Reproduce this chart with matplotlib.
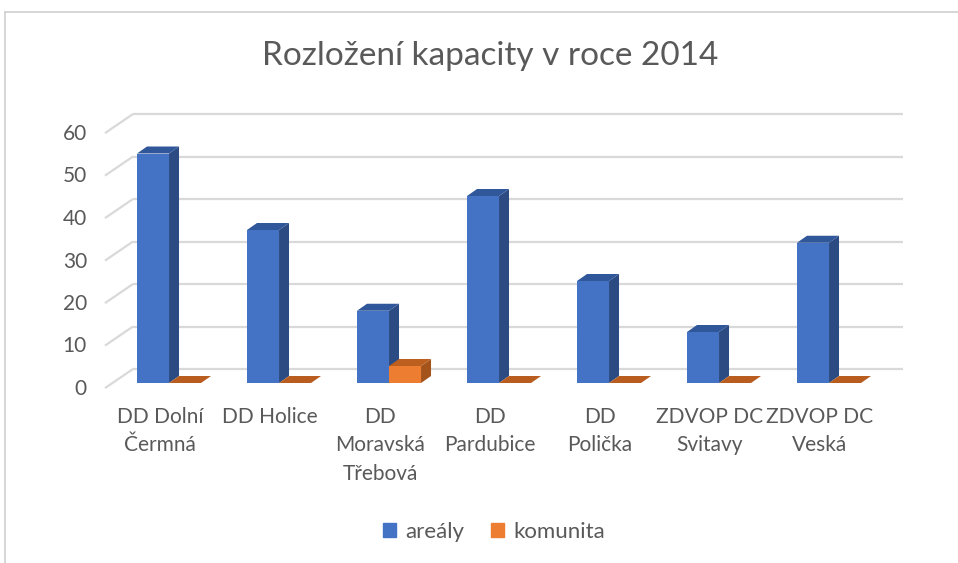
import numpy as np
import matplotlib
matplotlib.use('Agg')
import matplotlib.pyplot as plt
from matplotlib.patches import Polygon, Patch
from matplotlib.lines import Line2D
import matplotlib.transforms as mtransforms

# data
categories = ['DD Dolní\nČermná', 'DD Holice', 'DD\nMoravská\nTřebová', 'DD\nPardubice',
              'DD\nPolička', 'ZDVOP DC\nSvitavy', 'ZDVOP DC\nVeská']
areály = [54, 36, 17, 44, 24, 12, 33]
komunita = [0, 0, 4, 0, 0, 0, 0]
series_names = ['areály', 'komunita']
title = 'Rozložení kapacity v roce 2014'

plt.rcParams['font.family'] = ['Lato', 'DejaVu Sans']
text_col = '#595959'
grid_col = '#d9d9d9'

# front / side / top colours per series
blue = ('#4472c4', '#2c4b82', '#30579a')
orange = ('#ed7d31', '#a4531b', '#bd601f')

fig = plt.figure(figsize=(9.58, 5.63), dpi=100)
ax = fig.add_axes([105/958, 180/563, 770/958, 255/563])
ax.set_xlim(-0.5, 6.5)
ax.set_ylim(0, 60)
for s in ax.spines.values():
    s.set_visible(False)

# 3D offsets in data units
gdx, gdy = 28/110, 14/4.25      # floor depth (gridlines on back wall)
bdx, bdy = 10/110, 7/4.25       # bar depth
w = 0.291
x = np.arange(len(categories))

# back wall gridlines + left wall diagonals
for v in range(0, 61, 10):
    ax.plot([-0.5 + gdx, 6.5 + gdx], [v + gdy, v + gdy], color=grid_col, lw=1.6,
            clip_on=False, zorder=0, solid_capstyle='butt')
    ax.plot([-0.5, -0.5 + gdx], [v - 1.2, v + gdy], color=grid_col, lw=1.6,
            clip_on=False, zorder=0, solid_capstyle='butt')


def bar3d(x0, vals, cols, z):
    ax.bar(x0, vals, width=w, align='edge', color=cols[0], edgecolor='none',
           zorder=z, clip_on=False)
    for xi, v in zip(x0, vals):
        x1 = xi + w
        if v > 0:
            ax.add_patch(Polygon([(x1, 0), (x1 + bdx, bdy), (x1 + bdx, v + bdy), (x1, v)],
                                 closed=True, fc=cols[1], ec='none', zorder=z, clip_on=False))
        ax.add_patch(Polygon([(xi, v), (xi + bdx, v + bdy), (x1 + bdx, v + bdy), (x1, v)],
                             closed=True, fc=cols[2] if v > 0 else '#b85d1f', ec='none',
                             zorder=z, clip_on=False))


bar3d(x - 0.209, areály, blue, 2)
bar3d(x - 0.209 + w, komunita, orange, 3)

ax.set_yticks(range(0, 61, 10))
ax.tick_params(axis='y', length=0, pad=13, labelsize=15, labelcolor=text_col)
offset = mtransforms.ScaledTranslation(0, -4/100, fig.dpi_scale_trans)
for lab in ax.get_yticklabels():
    lab.set_transform(lab.get_transform() + offset)

ax.set_xticks(x)
ax.set_xticklabels(categories, linespacing=1.55)
ax.tick_params(axis='x', length=0, pad=17, labelsize=15, labelcolor=text_col)

fig.text(490/958, 1 - 56/563, title, ha='center', va='center', fontsize=24, color=text_col)

handles = [Patch(color=blue[0]), Patch(color=orange[0])]
fig.legend(handles, series_names, loc='center', bbox_to_anchor=(494/958, 31/563), ncol=2,
           frameon=False, fontsize=16, labelcolor=text_col, handlelength=0.6, handleheight=0.6,
           handletextpad=0.4, columnspacing=1.2)

# chart area border (top and left only visible)
fig.add_artist(Line2D([5/958, 5/958], [0, 1 - 12/563], transform=fig.transFigure,
                      color='#d0d0d0', lw=1.2))
fig.add_artist(Line2D([5/958, 1], [1 - 12/563, 1 - 12/563], transform=fig.transFigure,
                      color='#d0d0d0', lw=1.2))

fig.savefig('out.png', dpi=100)
